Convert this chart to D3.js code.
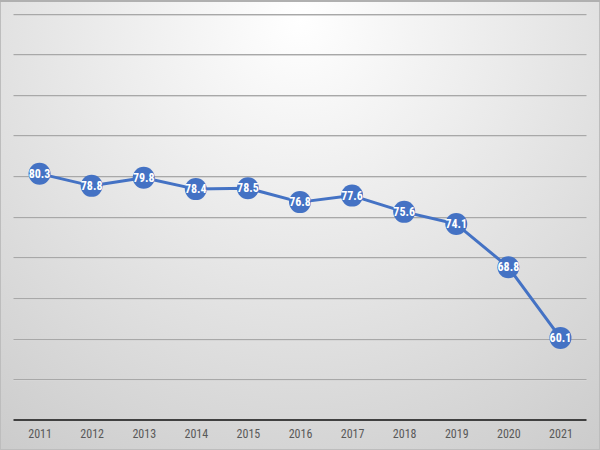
<!DOCTYPE html>
<html><head><meta charset="utf-8">
<script src="https://cdn.jsdelivr.net/npm/d3@7"></script>
<style>html,body{margin:0;padding:0;background:#fff;}svg{display:block;}</style>
</head><body>
<script>
const years = ["2011","2012","2013","2014","2015","2016","2017","2018","2019","2020","2021"];
const values = [80.3,78.8,79.8,78.4,78.5,76.8,77.6,75.6,74.1,68.8,60.1];
const yTicks = [50,55,60,65,70,75,80,85,90,95,100];

(function(){
const W = 600, H = 450;
const svg = d3.select("body").append("svg").attr("width", W).attr("height", H);
const defs = svg.append("defs");
const rg = defs.append("radialGradient").attr("id","bg")
  .attr("gradientUnits","userSpaceOnUse")
  .attr("cx",300).attr("cy",20).attr("r",560).attr("fx",300).attr("fy",20);
rg.append("stop").attr("offset","0%").attr("stop-color","#ffffff");
rg.append("stop").attr("offset","100%").attr("stop-color","#c8c8c8");
svg.append("rect").attr("x",0.5).attr("y",0.5).attr("width",W-1).attr("height",H-1)
  .attr("fill","url(#bg)").attr("stroke","#bdbdbd").attr("stroke-width",1);
svg.append("line").attr("x1",0).attr("x2",W).attr("y1",1).attr("y2",1).attr("stroke","#b0b0b0").attr("stroke-width",2);

const pl = 13.5, pr = 586.5, pt = 13.5, pb = 420;
const x = d3.scalePoint().domain(years).range([pl, pr]).padding(0.5);
const y = d3.scaleLinear().domain([50,100]).range([pb, pt]);

svg.append("g").selectAll("line").data(yTicks.filter(d=>d>50)).join("line")
  .attr("x1",pl).attr("x2",pr)
  .attr("y1",d=>Math.round(y(d))+0.5).attr("y2",d=>Math.round(y(d))+0.5)
  .attr("stroke","#a8a8a8").attr("stroke-width",1);
svg.append("g").selectAll("line").data(yTicks.filter(d=>d>50)).join("line")
  .attr("x1",pl).attr("x2",pr)
  .attr("y1",d=>Math.round(y(d))+1.5).attr("y2",d=>Math.round(y(d))+1.5)
  .attr("stroke","#d6d6d6").attr("stroke-width",1);

const xAxis = svg.append("g").attr("transform",`translate(0,${pb})`)
  .call(d3.axisBottom(x).tickSize(0).tickPadding(9));
xAxis.select(".domain").attr("stroke","#404040").attr("stroke-width",2)
  .attr("d",`M${pl},0H${pr}`);
xAxis.selectAll("text").attr("fill","#595959")
  .style("font-family","'Liberation Sans Narrow','Roboto Condensed',Arial,sans-serif")
  .style("font-size","12px");

const data = years.map((yr,i)=>({yr, v: values[i]}));
svg.append("path").datum(data)
  .attr("d", d3.line().x(d=>x(d.yr)).y(d=>y(d.v)))
  .attr("fill","none").attr("stroke","#4472c4").attr("stroke-width",3).attr("stroke-linejoin","round");

svg.append("g").selectAll("circle").data(data).join("circle")
  .attr("cx",d=>x(d.yr)).attr("cy",d=>y(d.v)).attr("r",11)
  .attr("fill","#4472c4");

svg.append("g").selectAll("text").data(data).join("text")
  .attr("x",d=>x(d.yr)).attr("y",d=>y(d.v)).attr("dy","0.35em")
  .attr("text-anchor","middle").attr("fill","#ffffff")
  .style("font-family","'Liberation Sans Narrow','Roboto Condensed',Arial,sans-serif")
  .style("font-size","12px").style("font-weight","bold")
  .text(d=>d.v.toFixed(1));
})();
</script>
</body></html>
